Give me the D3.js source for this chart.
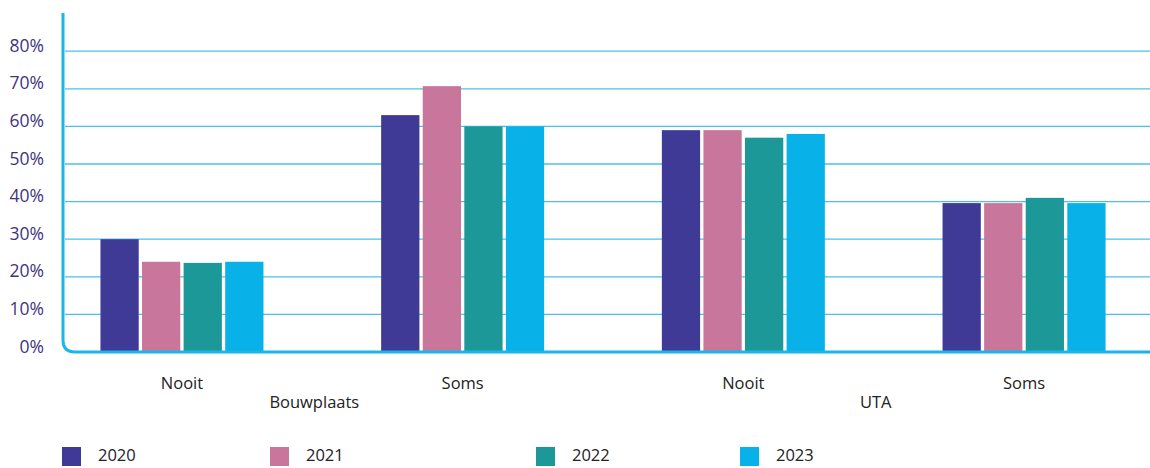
<!DOCTYPE html>
<html><head><meta charset="utf-8">
<script src="https://cdn.jsdelivr.net/npm/d3@7"></script>
<style>body{margin:0;background:#fff}svg{display:block}</style>
</head><body><svg id="c" width="1150" height="468"></svg>
<script>
const groups = ["Bouwplaats", "UTA"];
const answers = ["Nooit", "Soms"];
const categories = ["Bouwplaats|Nooit", "Bouwplaats|Soms", "UTA|Nooit", "UTA|Soms"];
const years = ["2020", "2021", "2022", "2023"];
const v2020 = [30, 63, 59, 39.6];
const v2021 = [24, 70.7, 59, 39.6];
const v2022 = [23.7, 60, 57, 41];
const v2023 = [24, 60, 58, 39.6];
const yTicks = [0, 10, 20, 30, 40, 50, 60, 70, 80];
const colors = ["#3e3a96", "#c8769c", "#1c9899", "#08b2e8"];
const series = [v2020, v2021, v2022, v2023];

const svg = d3.select("#c");
const y = d3.scaleLinear().domain([0, 80]).range([352, 51.2]);
const x0 = d3.scaleBand().domain(categories).range([41.6, 1164.4]).padding(0);
const x1 = d3.scaleBand().domain(years).range([-81.5, 81.5]).paddingInner(0.08);
const axisColor = "#1cb5e8";
const font = "'Open Sans', sans-serif";

// gridlines
svg.append("g").selectAll("line").data(yTicks.filter(d => d > 0)).join("line")
  .attr("x1", 65).attr("x2", 1150)
  .attr("y1", d => y(d)).attr("y2", d => y(d))
  .attr("stroke", "#4cc0e8").attr("stroke-width", 1.3);

// y tick labels
svg.append("g").selectAll("text").data(yTicks).join("text")
  .attr("x", 44).attr("y", d => y(d) - 4)
  .attr("text-anchor", "end").attr("dominant-baseline", "middle")
  .attr("font-family", font).attr("font-size", 17.5)
  .attr("fill", "#3d3580").text(d => d + "%");

// bars
categories.forEach((c, ci) => {
  const cx = x0(c) + x0.bandwidth() / 2;
  years.forEach((yr, si) => {
    const val = series[si][ci];
    svg.append("rect")
      .attr("x", cx + x1(yr)).attr("width", x1.bandwidth())
      .attr("y", y(val)).attr("height", y(0) - y(val) - 1)
      .attr("fill", colors[si]);
  });
  svg.append("text").attr("x", cx).attr("y", 385)
    .attr("text-anchor", "middle").attr("dominant-baseline", "middle")
    .attr("font-family", font).attr("font-size", 16.5)
    .attr("fill", "#222").text(c.split("|")[1]);
});

// group labels
groups.forEach((g, gi) => {
  const a = x0(categories[gi * 2]) + x0.bandwidth() / 2;
  const b = x0(categories[gi * 2 + 1]) + x0.bandwidth() / 2;
  svg.append("text").attr("x", (a + b) / 2 - 8).attr("y", 404)
    .attr("text-anchor", "middle").attr("dominant-baseline", "middle")
    .attr("font-family", font).attr("font-size", 16.5)
    .attr("fill", "#222").text(g);
});

// axis (vertical + rounded corner + baseline)
const r = 12;
svg.append("path")
  .attr("d", `M63,13 L63,${y(0) - r} Q63,${y(0)} ${63 + r},${y(0)} L1150,${y(0)}`)
  .attr("fill", "none").attr("stroke", axisColor).attr("stroke-width", 3);

// legend
const legX = [62, 270, 536, 740];
years.forEach((yr, i) => {
  svg.append("rect").attr("x", legX[i]).attr("y", 447).attr("width", 19).attr("height", 19)
    .attr("fill", colors[i]);
  svg.append("text").attr("x", legX[i] + 36).attr("y", 457)
    .attr("dominant-baseline", "middle")
    .attr("font-family", font).attr("font-size", 16.5)
    .attr("fill", "#222").text(yr);
});
</script></body></html>
